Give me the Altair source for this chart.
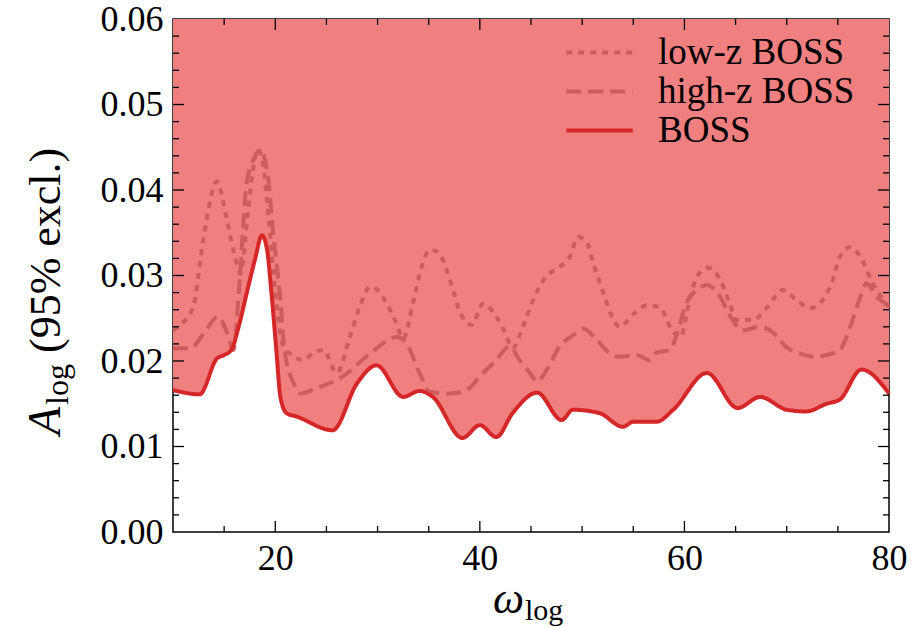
import altair as alt
import pandas as pd

FONT = "'Liberation Serif', 'DejaVu Serif', serif"

# ---------------- data ----------------
boss_w = [10, 12.6, 14.3, 15.0, 15.7, 16.5, 17.2, 18.0, 18.7, 19.2, 19.6, 20.1, 20.5, 21.1, 22.1,
          25.6, 28.0, 29.9, 32.5, 34.1, 35.4, 38.3, 40.0, 41.6, 43.2, 45.6, 48.0, 49.1, 51.7,
          54.0, 55.0, 57.3, 58.9, 62.2, 65.2, 67.4, 70.0, 71.9, 73.9, 75.2, 77.3, 80]
boss_A = [0.0166, 0.0161, 0.0203, 0.0207, 0.0213, 0.0244, 0.0279, 0.0318, 0.0347, 0.0330, 0.0283,
          0.0213, 0.0158, 0.0139, 0.0135, 0.0119, 0.0174, 0.0195, 0.0158, 0.0165, 0.0158, 0.0110,
          0.0125, 0.0111, 0.0139, 0.0163, 0.0131, 0.0143, 0.0139, 0.0123, 0.0129, 0.0129, 0.0143,
          0.0186, 0.0145, 0.0158, 0.0143, 0.0141, 0.0150, 0.0155, 0.0190, 0.0162]

lowz_w = [10, 11, 12, 13, 14.3, 15.2, 16.0, 16.6, 17.3, 17.9, 18.3, 18.8, 19.4, 20.1, 20.7, 21.5,
          22.7, 23.8, 24.7, 26.0, 27.3, 28.3, 29.3, 30.0, 30.9, 31.8, 32.5, 33.5, 34.3, 35.1, 35.8,
          36.4, 37.2, 38.1, 39.2, 40.3, 41.6, 42.4, 43.2, 44.2, 45.2, 46.5, 47.5, 48.8, 49.6, 50.4,
          51.1, 52.1, 52.9, 53.7, 55.0, 56.3, 57.6, 58.6, 59.6, 60.5, 61.2, 62.3, 63.5, 64.4, 65.1,
          66.7, 68.1, 69.6, 71.0, 72.3, 73.5, 74.5, 75.2, 76.2, 77.2, 78.4, 80]
lowz_A = [0.0236, 0.0245, 0.0264, 0.0345, 0.0410, 0.0369, 0.0325, 0.0302, 0.0370, 0.0430, 0.0448,
          0.0430, 0.0360, 0.0270, 0.0220, 0.0208, 0.0201, 0.0210, 0.0213, 0.0186, 0.0228, 0.0265,
          0.0287, 0.0283, 0.0267, 0.0245, 0.0226, 0.0270, 0.0310, 0.0330, 0.0328, 0.0318, 0.0290,
          0.0256, 0.0242, 0.0267, 0.0252, 0.0235, 0.0215, 0.0240, 0.0271, 0.0299, 0.0308, 0.0322,
          0.0345, 0.0340, 0.0314, 0.0279, 0.0252, 0.0240, 0.0255, 0.0265, 0.0263, 0.0240, 0.0228,
          0.0271, 0.0298, 0.0309, 0.0295, 0.0268, 0.0248, 0.0248, 0.0263, 0.0283, 0.0271, 0.0262,
          0.0271, 0.0295, 0.0322, 0.0333, 0.0322, 0.0291, 0.0263]

highz_w = [10, 11.7, 13.0, 14.4, 15.2, 15.9, 16.5, 17.2, 18.0, 18.5, 19.2, 19.8, 20.5, 20.9, 21.8,
           22.4, 24.0, 26.6, 29.3, 31.9, 32.8, 34.1, 35.1, 37.1, 38.7, 40.0, 41.6, 42.9, 43.9,
           44.9, 45.6, 46.5, 47.8, 49.1, 50.1, 51.4, 52.7, 53.7, 55.3, 56.6, 57.3, 58.6, 59.3,
           60.2, 61.2, 62.2, 63.5, 64.4, 65.7, 67.4, 68.7, 70.0, 71.3, 72.6, 73.9, 75.2, 76.2,
           77.2, 77.8, 78.8, 80]
highz_A = [0.0215, 0.0215, 0.0232, 0.0252, 0.0236, 0.0213, 0.0291, 0.0408, 0.0439, 0.0447, 0.0423,
           0.0349, 0.0271, 0.0213, 0.0174, 0.0162, 0.0168, 0.0182, 0.0209, 0.0228, 0.0221, 0.0186,
           0.0164, 0.0162, 0.0166, 0.0182, 0.0201, 0.0217, 0.0201, 0.0186, 0.0176, 0.0189, 0.0217,
           0.0230, 0.0238, 0.0225, 0.0209, 0.0205, 0.0207, 0.0201, 0.0210, 0.0213, 0.0233, 0.0268,
           0.0283, 0.0289, 0.0275, 0.0254, 0.0236, 0.0240, 0.0233, 0.0216, 0.0209, 0.0205, 0.0207,
           0.0213, 0.0240, 0.0275, 0.0291, 0.0275, 0.0265]

series_names = ["low-z BOSS", "high-z BOSS", "BOSS"]
series_colors = ["#cd5c5c", "#cd5c5c", "#d62728"]
series_dashes = [[6, 6], [15, 7], [1, 0]]

x_tick_labels = [20, 40, 60, 80]
y_tick_labels = [0.0, 0.01, 0.02, 0.03, 0.04, 0.05, 0.06]
x_major = [20, 40, 60]
x_minor = [15, 25, 30, 35, 45, 50, 55, 65, 70, 75]
y_major = [0.01, 0.02, 0.03, 0.04, 0.05]
y_minor = [0.002, 0.004, 0.006, 0.008, 0.012, 0.014, 0.016, 0.018, 0.022, 0.024, 0.026, 0.028,
           0.032, 0.034, 0.036, 0.038, 0.042, 0.044, 0.046, 0.048, 0.052, 0.054, 0.056, 0.058]
y_top = 0.06

# ---------------- layout ----------------
W, H = 716, 513
PAD = {"left": 173, "top": 19, "right": 26, "bottom": 95}
MAJ, MIN = 11, 6

def frame(ws, As, name):
    return pd.DataFrame({"w": ws, "A": As, "series": name})

df_boss = frame(boss_w, boss_A, "BOSS")
df_low = frame(lowz_w, lowz_A, "low-z BOSS")
df_high = frame(highz_w, highz_A, "high-z BOSS")

xscale = alt.Scale(domain=[10, 80], nice=False, zero=False)
yscale = alt.Scale(domain=[0, 0.06], nice=False)
xax = alt.Axis(values=x_tick_labels, format="d", title=None, ticks=False, domain=False,
               grid=False, labelFont=FONT, labelFontSize=36, labelPadding=9,
               labelColor="black", labelFlush=False)
yax = alt.Axis(values=y_tick_labels, format=".2f", title=None, ticks=False, domain=False,
               grid=False, labelFont=FONT, labelFontSize=36, labelPadding=10,
               labelColor="black", labelFlush=False)

X = alt.X("w:Q", scale=xscale, axis=xax)
Y = alt.Y("A:Q", scale=yscale, axis=yax)

# long horizontal line symbol (path is scaled by sqrt(symbolSize))
legend = alt.Legend(title=None, orient="none", legendX=406, legendY=13,
                    symbolType="M-1.8,0H1.8", symbolSize=1369, symbolStrokeWidth=4,
                    symbolFillColor="transparent",
                    labelFont=FONT, labelFontSize=37, labelColor="black", labelOffset=38,
                    rowPadding=0, labelLimit=0)
color = alt.Color("series:N", scale=alt.Scale(domain=series_names, range=series_colors),
                  legend=legend)
dash = alt.StrokeDash("series:N", scale=alt.Scale(domain=series_names, range=series_dashes),
                      legend=legend)

area = alt.Chart(df_boss).mark_area(color="#f08080", opacity=1, interpolate="monotone").encode(
    x=X, y=Y, y2=alt.datum(y_top))

def line(df):
    return alt.Chart(df).mark_line(strokeWidth=4, interpolate="monotone", strokeCap="butt").encode(
        x=X, y=Y, color=color, strokeDash=dash)

low_line = line(df_low)
high_line = line(df_high)
boss_line = line(df_boss)

def xticks(vals, length):
    d = pd.DataFrame({"w": vals})
    b = alt.Chart(d).mark_rule(color="black", strokeWidth=1.3).encode(
        x=X, y=alt.value(H), y2=alt.value(H - length))
    t = alt.Chart(d).mark_rule(color="black", strokeWidth=1.3).encode(
        x=X, y=alt.value(0), y2=alt.value(length))
    return [b, t]

def yticks(vals, length):
    d = pd.DataFrame({"A": vals})
    l = alt.Chart(d).mark_rule(color="black", strokeWidth=1.3).encode(
        y=Y, x=alt.value(0), x2=alt.value(length))
    r = alt.Chart(d).mark_rule(color="black", strokeWidth=1.3).encode(
        y=Y, x=alt.value(W), x2=alt.value(W - length))
    return [l, r]

one = pd.DataFrame({"t": [""]})

def label(text, x, y, size, italic=False, angle=0, align="left", baseline="alphabetic"):
    kw = dict(text=text, fontSize=size, font=FONT, color="black", align=align,
              baseline=baseline)
    if italic:
        kw["fontStyle"] = "italic"
    if angle:
        kw["angle"] = angle
    return alt.Chart(one).mark_text(**kw).encode(x=alt.value(x), y=alt.value(y))

titles = [
    # x-axis title: omega_log
    label("ω", 351, 594, 44, italic=True, align="right"),
    label("log", 352, 601, 30),
    # y-axis title: A_log (95% excl.)
    label("A", -113, 416, 46, italic=True, angle=270),
    label("log", -105, 386, 32, angle=270),
    label("(95% excl.)", -113, 334, 44, angle=270),
]

layers = [area, low_line, high_line, boss_line]
layers += xticks(x_major, MAJ) + xticks(x_minor, MIN)
layers += yticks(y_major, MAJ) + yticks(y_minor, MIN)
layers += titles

chart = alt.layer(*layers).properties(
    width=W, height=H, padding=PAD,
    autosize=alt.AutoSizeParams(type="none"),
    background="white",
).configure_view(stroke="black", strokeWidth=1.5)

chart.save("out.html", embed_options={"renderer": "svg", "actions": False})
